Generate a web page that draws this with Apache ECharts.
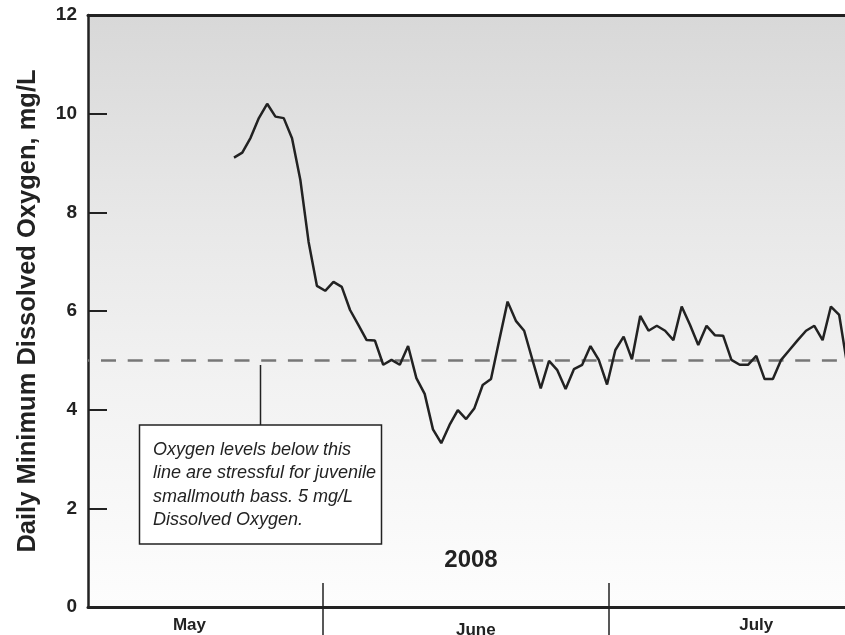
<!DOCTYPE html>
<html>
<head>
<meta charset="utf-8">
<script src="https://cdn.jsdelivr.net/npm/echarts@6/dist/echarts.min.js"></script>
<style>
html,body{margin:0;padding:0;background:#fff;}
#chart{width:845px;height:635px;}
</style>
</head>
<body>
<div id="chart"></div>
<script>
// Daily minimum dissolved oxygen (mg/L), one value per day, index 0 = first day shown
const oxygenValues = [
  9.11, 9.21, 9.51, 9.91, 10.2, 9.94, 9.91, 9.50, 8.66, 7.40,
  6.51, 6.41, 6.59, 6.49, 6.02, 5.72, 5.41, 5.40, 4.91, 5.01,
  4.91, 5.29, 4.64, 4.32, 3.60, 3.32, 3.69, 3.99, 3.81, 4.03,
  4.50, 4.62, 5.41, 6.19, 5.80, 5.60, 5.01, 4.43, 4.99, 4.80,
  4.42, 4.82, 4.91, 5.29, 5.01, 4.51, 5.21, 5.48, 5.02, 5.90,
  5.60, 5.70, 5.60, 5.41, 6.09, 5.72, 5.31, 5.70, 5.51, 5.50,
  5.01, 4.91, 4.91, 5.09, 4.62, 4.62, 5.01, 5.21, 5.41, 5.60,
  5.70, 5.41, 6.09, 5.92, 4.87
];
const threshold = 5; // mg/L stress line
const monthNames = ['May', 'June', 'July'];
const monthLabelPos = [-5.37, 29.17, 63.0];   // day-index positions of month labels
const monthBoundaryPos = [10.72, 45.2];        // day-index positions of month separators
const xMin = -17.61, xMax = 73.7;
const yearLabel = '2008';
const yTitle = 'Daily Minimum Dissolved Oxygen, mg/L';
const noteLines = [
  'Oxygen levels below this',
  'line are stressful for juvenile',
  'smallmouth bass. 5 mg/L',
  'Dissolved Oxygen.'
];

const FONT = '"Liberation Sans", Arial, sans-serif';
const INK = '#222';

const chart = echarts.init(document.getElementById('chart'), null, {renderer: 'canvas'});

const option = {
  animation: false,
  backgroundColor: '#ffffff',
  grid: {
    left: 88, top: 15, right: 0, bottom: 28,
    outerBoundsMode: 'none',
    containLabel: false,
    show: true,
    borderWidth: 0,
    backgroundColor: new echarts.graphic.LinearGradient(0, 0, 0, 1, [
      {offset: 0, color: '#d8d8d8'},
      {offset: 0.35, color: '#e8e8e8'},
      {offset: 0.62, color: '#f2f2f2'},
      {offset: 1, color: '#fdfdfd'}
    ])
  },
  xAxis: [
    {
      type: 'value', min: xMin, max: xMax, position: 'bottom',
      splitLine: {show: false},
      axisLine: {show: true, onZero: false, lineStyle: {color: INK, width: 3}},
      axisTick: {show: true, inside: false, length: 28, customValues: monthBoundaryPos,
                 lineStyle: {color: INK, width: 1.5}},
      axisLabel: {
        show: true, customValues: monthLabelPos, margin: 10,
        fontFamily: FONT, fontWeight: 'bold', fontSize: 17, color: INK,
        formatter: function (v) {
          let best = 0;
          for (let i = 1; i < monthLabelPos.length; i++) {
            if (Math.abs(monthLabelPos[i] - v) < Math.abs(monthLabelPos[best] - v)) best = i;
          }
          return best === 1 ? '{low|' + monthNames[best] + '}' : monthNames[best];
        },
        rich: {low: {fontFamily: FONT, fontWeight: 'bold', fontSize: 17, color: INK, padding: [5, 0, 0, 0]}}
      }
    },
    {
      type: 'value', min: xMin, max: xMax, position: 'bottom',
      splitLine: {show: false},
      axisLine: {show: false, onZero: false},
      axisTick: {show: true, inside: true, length: 24, customValues: monthBoundaryPos,
                 lineStyle: {color: INK, width: 1.5}},
      axisLabel: {show: false}
    },
    {
      type: 'value', min: xMin, max: xMax, position: 'top',
      splitLine: {show: false},
      axisLine: {show: true, onZero: false, lineStyle: {color: INK, width: 3}},
      axisTick: {show: false},
      axisLabel: {show: false}
    }
  ],
  yAxis: {
    type: 'value', min: 0, max: 12, interval: 2, position: 'left',
    splitLine: {show: false},
    axisLine: {show: true, onZero: false, lineStyle: {color: INK, width: 2.5}},
    axisTick: {show: true, inside: true, length: 19, lineStyle: {color: INK, width: 2}},
    axisLabel: {margin: 11, fontFamily: FONT, fontWeight: 'bold', fontSize: 19, color: INK},
    name: yTitle,
    nameLocation: 'middle',
    nameGap: 47,
    nameTextStyle: {fontFamily: FONT, fontWeight: 'bold', fontSize: 25.5, color: INK}
  },
  series: [{
    type: 'line',
    xAxisIndex: 0,
    data: oxygenValues.map((v, i) => [i, v]),
    showSymbol: false,
    symbol: 'none',
    smooth: false,
    clip: true,
    lineStyle: {color: INK, width: 2.5},
    z: 5,
    markLine: {
      silent: true,
      symbol: 'none',
      label: {show: false},
      lineStyle: {color: '#777', width: 2.5, type: [15, 11.7], dashOffset: 13.7},
      data: [{yAxis: threshold}],
      z: 3
    }
  }],
  graphic: [
    {
      type: 'line', z: 10,
      shape: {x1: 260.5, y1: 365, x2: 260.5, y2: 425},
      style: {stroke: INK, lineWidth: 1.5}
    },
    {
      type: 'rect', z: 10,
      shape: {x: 139.5, y: 425, width: 242, height: 119},
      style: {fill: '#ffffff', stroke: INK, lineWidth: 1.5}
    },
    {
      type: 'text', z: 11,
      style: {
        x: 153, y: 485,
        text: noteLines.join('\n'),
        font: 'italic 18px ' + FONT,
        fill: INK,
        lineHeight: 23.5,
        verticalAlign: 'middle',
        align: 'left'
      }
    },
    {
      type: 'text', z: 11,
      style: {
        x: 471, y: 560,
        text: yearLabel,
        font: 'bold 24px ' + FONT,
        fill: INK,
        align: 'center',
        verticalAlign: 'middle'
      }
    }
  ]
};
chart.setOption(option);
</script>
</body>
</html>
